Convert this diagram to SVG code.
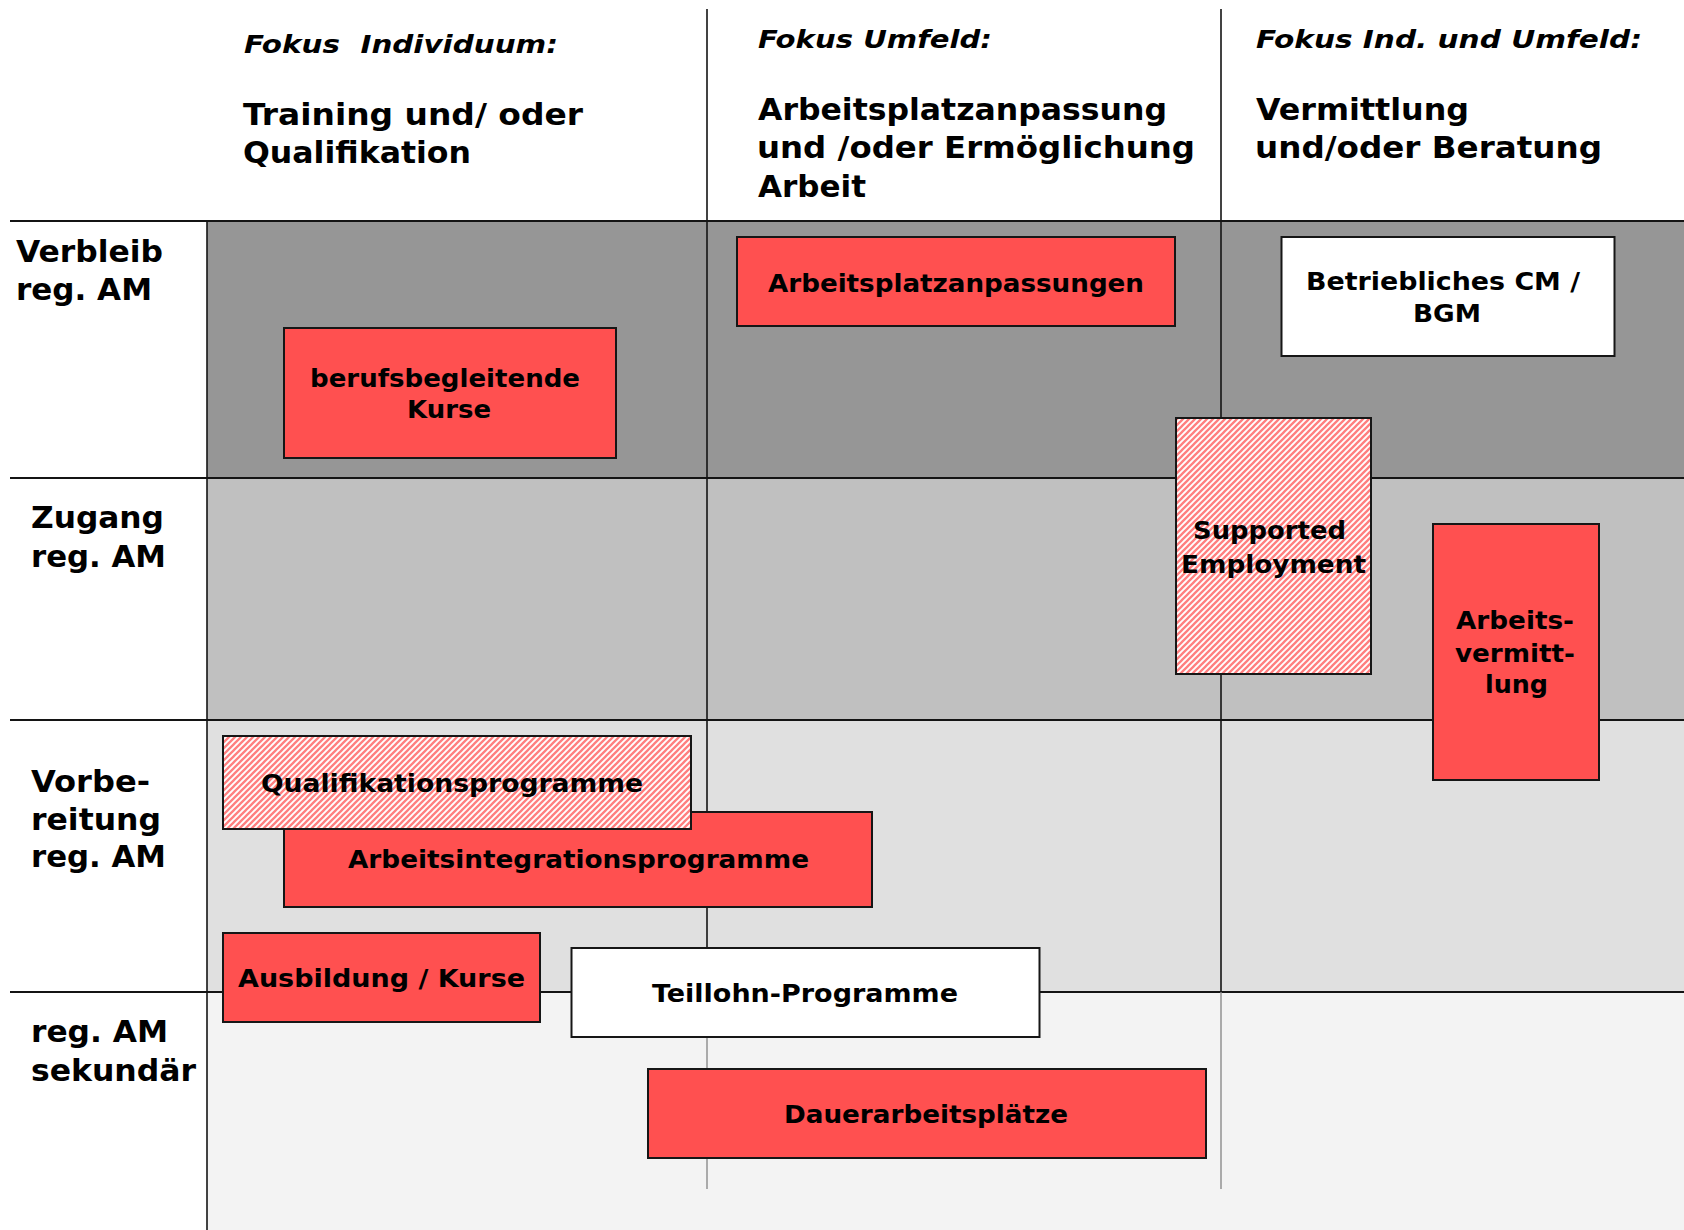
<svg xmlns="http://www.w3.org/2000/svg" width="1684" height="1230" viewBox="0 0 1684 1230">
  <style>
    text { font-family: "DejaVu Sans", Verdana, "Liberation Sans", sans-serif; font-weight: bold; fill: #000; }
    .focus { font-size: 25px; font-style: italic; white-space: pre; }
    .head { font-size: 30px; }
    .row { font-size: 30px; }
    .lbl { font-size: 24px; }
    .box { stroke: #161616; stroke-width: 2; }
    .red { fill: #ff5050; }
    .white { fill: #ffffff; }
    .hatch { fill: url(#diag); }
    .grid { stroke: #141414; stroke-width: 2.2; fill: none; }
    .vgrid { stroke: #141414; stroke-width: 1.6; fill: none; }
    .vfaint { stroke: #8a8a8a; stroke-width: 1.4; fill: none; }
  </style>
  <defs>
    <pattern id="diag" patternUnits="userSpaceOnUse" width="6" height="6">
      <rect width="6" height="6" fill="#ffffff"/>
      <path d="M-1,1 L1,-1 M0,6 L6,0 M5,7 L7,5" stroke="#ff7f7f" stroke-width="2.3"/>
    </pattern>
  </defs>

  <rect width="1684" height="1230" fill="#ffffff"/>

  <!-- row bands -->
  <g id="bands">
    <rect x="207" y="221" width="1477" height="257" fill="#969696"/>
    <rect x="207" y="478" width="1477" height="242" fill="#c0c0c0"/>
    <rect x="207" y="720" width="1477" height="272" fill="#e0e0e0"/>
    <rect x="207" y="992" width="1477" height="238" fill="#f3f3f3"/>
  </g>

  <!-- grid lines -->
  <g id="connectors">
    <line class="grid" x1="10" y1="221" x2="1684" y2="221"/>
    <line class="grid" x1="10" y1="478" x2="1684" y2="478"/>
    <line class="grid" x1="10" y1="720" x2="1684" y2="720"/>
    <line class="grid" x1="10" y1="992" x2="1684" y2="992"/>
    <line class="vgrid" x1="207" y1="221" x2="207" y2="1230"/>
    <line class="vgrid" x1="707" y1="9" x2="707" y2="992"/>
    <line class="vgrid" x1="1221" y1="9" x2="1221" y2="992"/>
    <line class="vfaint" x1="707" y1="992" x2="707" y2="1189"/>
    <line class="vfaint" x1="1221" y1="992" x2="1221" y2="1189"/>
  </g>

  <!-- column headers -->
  <g id="head-individuum">
    <text class="focus" x="244" y="53" textLength="314" lengthAdjust="spacingAndGlyphs" xml:space="preserve">Fokus  Individuum:</text>
    <text class="head" x="243" y="125" textLength="340" lengthAdjust="spacingAndGlyphs">Training und/ oder</text>
    <text class="head" x="243" y="163" textLength="228" lengthAdjust="spacingAndGlyphs">Qualifikation</text>
  </g>
  <g id="head-umfeld">
    <text class="focus" x="758" y="48" textLength="234" lengthAdjust="spacingAndGlyphs">Fokus Umfeld:</text>
    <text class="head" x="758" y="120" textLength="409" lengthAdjust="spacingAndGlyphs">Arbeitsplatzanpassung</text>
    <text class="head" x="757" y="158" textLength="438" lengthAdjust="spacingAndGlyphs">und /oder Ermöglichung</text>
    <text class="head" x="758" y="197" textLength="108" lengthAdjust="spacingAndGlyphs">Arbeit</text>
  </g>
  <g id="head-beide">
    <text class="focus" x="1256" y="48" textLength="386" lengthAdjust="spacingAndGlyphs">Fokus Ind. und Umfeld:</text>
    <text class="head" x="1256" y="120" textLength="213" lengthAdjust="spacingAndGlyphs">Vermittlung</text>
    <text class="head" x="1255" y="158" textLength="347" lengthAdjust="spacingAndGlyphs">und/oder Beratung</text>
  </g>

  <!-- row headers -->
  <g id="row-verbleib">
    <text class="row" x="16" y="262" textLength="147" lengthAdjust="spacingAndGlyphs">Verbleib</text>
    <text class="row" x="16" y="300" textLength="136" lengthAdjust="spacingAndGlyphs">reg. AM</text>
  </g>
  <g id="row-zugang">
    <text class="row" x="31" y="528" textLength="133" lengthAdjust="spacingAndGlyphs">Zugang</text>
    <text class="row" x="31" y="567" textLength="135" lengthAdjust="spacingAndGlyphs">reg. AM</text>
  </g>
  <g id="row-vorbereitung">
    <text class="row" x="31" y="792" textLength="119" lengthAdjust="spacingAndGlyphs">Vorbe-</text>
    <text class="row" x="31" y="830" textLength="130" lengthAdjust="spacingAndGlyphs">reitung</text>
    <text class="row" x="31" y="867" textLength="135" lengthAdjust="spacingAndGlyphs">reg. AM</text>
  </g>
  <g id="row-sekundaer">
    <text class="row" x="31" y="1042" textLength="137" lengthAdjust="spacingAndGlyphs">reg. AM</text>
    <text class="row" x="31" y="1081" textLength="165" lengthAdjust="spacingAndGlyphs">sekundär</text>
  </g>

  <!-- measures -->
  <g id="berufsbegleitende-kurse">
    <rect class="box red" x="284" y="328" width="332" height="130"/>
    <text class="lbl" x="310" y="387" textLength="270" lengthAdjust="spacingAndGlyphs">berufsbegleitende</text>
    <text class="lbl" x="407" y="418" textLength="84" lengthAdjust="spacingAndGlyphs">Kurse</text>
  </g>
  <g id="arbeitsplatzanpassungen">
    <rect class="box red" x="737" y="237" width="438" height="89"/>
    <text class="lbl" x="768" y="292" textLength="376" lengthAdjust="spacingAndGlyphs">Arbeitsplatzanpassungen</text>
  </g>
  <g id="betriebliches-cm">
    <rect class="box white" x="1281.5" y="237" width="333" height="119"/>
    <text class="lbl" x="1306" y="290" textLength="274" lengthAdjust="spacingAndGlyphs">Betriebliches CM /</text>
    <text class="lbl" x="1413" y="322" textLength="68" lengthAdjust="spacingAndGlyphs">BGM</text>
  </g>
  <g id="arbeitsvermittlung">
    <rect class="box red" x="1433" y="524" width="166" height="256"/>
    <text class="lbl" x="1456" y="629" textLength="118" lengthAdjust="spacingAndGlyphs">Arbeits-</text>
    <text class="lbl" x="1455" y="662" textLength="120" lengthAdjust="spacingAndGlyphs">vermitt-</text>
    <text class="lbl" x="1485" y="693" textLength="63" lengthAdjust="spacingAndGlyphs">lung</text>
  </g>
  <g id="supported-employment">
    <rect class="box hatch" x="1176" y="418" width="195" height="256"/>
    <text class="lbl" x="1193" y="539" textLength="153" lengthAdjust="spacingAndGlyphs">Supported</text>
    <text class="lbl" x="1181" y="573" textLength="185" lengthAdjust="spacingAndGlyphs">Employment</text>
  </g>
  <g id="arbeitsintegrationsprogramme">
    <rect class="box red" x="284" y="812" width="588" height="95"/>
    <text class="lbl" x="348" y="868" textLength="461" lengthAdjust="spacingAndGlyphs">Arbeitsintegrationsprogramme</text>
  </g>
  <g id="qualifikationsprogramme">
    <rect class="box hatch" x="223" y="736" width="468" height="93"/>
    <text class="lbl" x="261" y="792" textLength="382" lengthAdjust="spacingAndGlyphs">Qualifikationsprogramme</text>
  </g>
  <g id="ausbildung-kurse">
    <rect class="box red" x="223" y="933" width="317" height="89"/>
    <text class="lbl" x="238" y="987" textLength="287" lengthAdjust="spacingAndGlyphs">Ausbildung / Kurse</text>
  </g>
  <g id="teillohn-programme">
    <rect class="box white" x="571.5" y="948" width="468" height="89"/>
    <text class="lbl" x="652" y="1002" textLength="306" lengthAdjust="spacingAndGlyphs">Teillohn-Programme</text>
  </g>
  <g id="dauerarbeitsplaetze">
    <rect class="box red" x="648" y="1069" width="558" height="89"/>
    <text class="lbl" x="784" y="1123" textLength="284" lengthAdjust="spacingAndGlyphs">Dauerarbeitsplätze</text>
  </g>
</svg>
